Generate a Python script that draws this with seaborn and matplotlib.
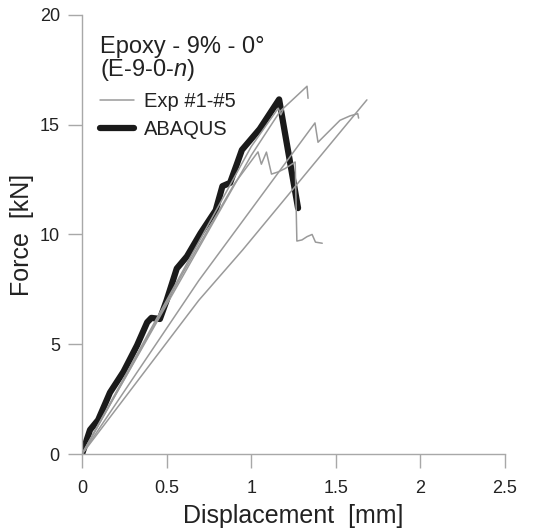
import numpy as np
import pandas as pd
import matplotlib
matplotlib.use("Agg")
import matplotlib.pyplot as plt
import seaborn as sns

# ---- data ----
abaqus_d = [0, 0.047, 0.095, 0.165, 0.245, 0.325, 0.385, 0.41, 0.46, 0.50, 0.56, 0.62, 0.70, 0.79, 0.83, 0.875, 0.915, 0.945, 1.05, 1.165, 1.277]
abaqus_f = [0, 1.1, 1.55, 2.8, 3.75, 4.95, 6.0, 6.2, 6.15, 7.0, 8.45, 9.0, 10.05, 11.1, 12.2, 12.35, 13.2, 13.85, 14.8, 16.15, 11.2]

exp1_d = [0, 0.3, 0.6, 0.9, 1.04, 1.06, 1.09, 1.12, 1.16, 1.20, 1.26, 1.27, 1.30, 1.33, 1.36, 1.38, 1.42]
exp1_f = [0, 4.1, 8.3, 12.3, 13.76, 13.2, 13.75, 12.75, 12.85, 13.0, 13.3, 9.7, 9.75, 9.9, 10.0, 9.65, 9.6]

exp2_d = [0, 0.5, 1.0, 1.17, 1.33, 1.336]
exp2_f = [0, 6.8, 13.6, 15.6, 16.75, 16.2]

exp3_d = [0, 0.5, 1.0, 1.16, 1.175, 1.19]
exp3_f = [0, 7.0, 14.0, 15.75, 15.45, 15.7]

exp4_d = [0, 0.69, 1.377, 1.395, 1.525, 1.584, 1.63, 1.635]
exp4_f = [0, 7.9, 15.08, 14.2, 15.2, 15.4, 15.5, 15.3]

exp5_d = [0, 0.69, 0.95, 1.684]
exp5_f = [0, 7.0, 9.3, 16.13]

x_ticks = [0, 0.5, 1, 1.5, 2, 2.5]
x_tick_labels = ["0", "0.5", "1", "1.5", "2", "2.5"]
y_ticks = [0, 5, 10, 15, 20]

exp_curves = [(exp1_d, exp1_f), (exp2_d, exp2_f), (exp3_d, exp3_f),
              (exp4_d, exp4_f), (exp5_d, exp5_f)]

# ---- style ----
sns.set_style("ticks")
plt.rcParams["font.family"] = ["Liberation Sans", "DejaVu Sans"]
plt.rcParams["mathtext.fontset"] = "custom"
plt.rcParams["mathtext.rm"] = "Liberation Sans"
plt.rcParams["mathtext.it"] = "Liberation Sans:italic"

fig = plt.figure(figsize=(5.4, 5.32), dpi=100)
ax = fig.add_axes([0.152, 0.1466, 0.783, 0.8254])

gray = "#9a9a9a"
axis_gray = "#a8a8a8"

sns.lineplot(x=abaqus_d, y=abaqus_f, sort=False, estimator=None, ax=ax,
             color="#1a1a1a", lw=4.5, solid_capstyle="round",
             solid_joinstyle="round", label="ABAQUS", zorder=2)
for i, (d, f) in enumerate(exp_curves):
    sns.lineplot(x=d, y=f, sort=False, estimator=None, ax=ax, color=gray,
                 lw=1.1, label="Exp #1-#5" if i == 0 else None, zorder=3)

ax.set_xlim(0, 2.5)
ax.set_ylim(0, 20)
ax.set_xticks(x_ticks)
ax.set_xticklabels(x_tick_labels)
ax.set_yticks(y_ticks)
ax.set_xlabel("Displacement  [mm]", fontsize=18, color="#222222", labelpad=5)
ax.set_ylabel("Force  [kN]", fontsize=18, color="#222222", labelpad=4)
ax.tick_params(axis="both", which="major", direction="out", length=10,
               width=1.0, color=axis_gray, labelcolor="#222222", labelsize=13,
               bottom=True, left=True)
ax.tick_params(axis="x", pad=9)
ax.tick_params(axis="y", pad=6)
for s in ["top", "right"]:
    ax.spines[s].set_visible(False)
for s in ["left", "bottom"]:
    ax.spines[s].set_color(axis_gray)
    ax.spines[s].set_linewidth(1.0)

handles, labels = ax.get_legend_handles_labels()
order = [labels.index("Exp #1-#5"), labels.index("ABAQUS")]
leg = ax.legend([handles[i] for i in order], [labels[i] for i in order],
                title="Epoxy - 9% - 0°\n(E-9-0-$n$)", loc="upper left",
                bbox_to_anchor=(0.008, 0.985), frameon=False, fontsize=14.5,
                title_fontsize=17, alignment="left", handlelength=1.7,
                handletextpad=0.5, borderpad=0.2, labelspacing=0.45)
leg.get_title().set_color("#222222")
leg.get_title().set_linespacing(0.95)
for t in leg.get_texts():
    t.set_color("#222222")

fig.savefig("out.png", dpi=100)
